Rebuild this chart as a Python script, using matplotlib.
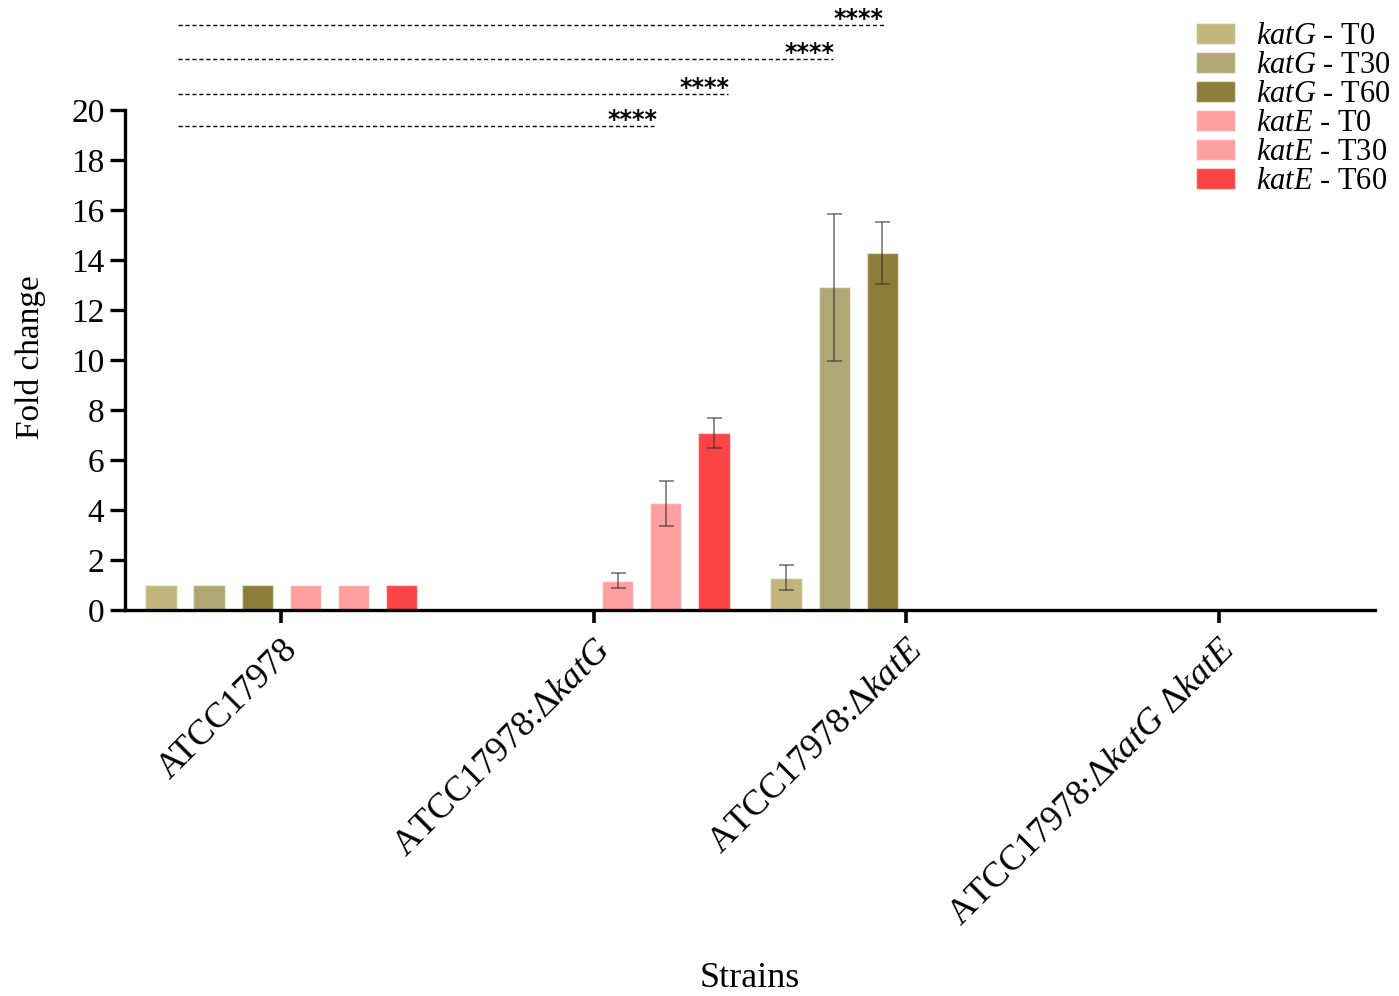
import numpy as np
import matplotlib
matplotlib.use("Agg")
import matplotlib.pyplot as plt

plt.rcParams["font.family"] = ["Liberation Serif", "DejaVu Serif"]
plt.rcParams["mathtext.fontset"] = "custom"
plt.rcParams["mathtext.rm"] = "Liberation Serif"
plt.rcParams["mathtext.it"] = "Liberation Serif:italic"

# Strains on the x axis
strains = [
    "ATCC17978",
    "ATCC17978:Δ$\\mathit{katG}$",
    "ATCC17978:Δ$\\mathit{katE}$",
    "ATCC17978:Δ$\\mathit{katG}$ Δ$\\mathit{katE}$",
]

# Fold change per series (nan = not measured for that strain)
katG_T0 = [1.0, np.nan, 1.29, np.nan]
katG_T30 = [1.0, np.nan, 12.9, np.nan]
katG_T60 = [1.0, np.nan, 14.27, np.nan]
katE_T0 = [1.0, 1.17, np.nan, np.nan]
katE_T30 = [1.0, 4.26, np.nan, np.nan]
katE_T60 = [1.0, 7.08, np.nan, np.nan]

# Error (± SD)
katG_T0_err = [0.0, np.nan, 0.49, np.nan]
katG_T30_err = [0.0, np.nan, 2.94, np.nan]
katG_T60_err = [0.0, np.nan, 1.24, np.nan]
katE_T0_err = [0.0, 0.30, np.nan, np.nan]
katE_T30_err = [0.0, 0.91, np.nan, np.nan]
katE_T60_err = [0.0, 0.60, np.nan, np.nan]

series_labels = [
    "$\\mathit{katG}$ - T0",
    "$\\mathit{katG}$ - T30",
    "$\\mathit{katG}$ - T60",
    "$\\mathit{katE}$ - T0",
    "$\\mathit{katE}$ - T30",
    "$\\mathit{katE}$ - T60",
]
series_colors = ["#C2B67C", "#B2A774", "#8C7E3A", "#FFA0A0", "#FFA0A0", "#FB4444"]

values = [katG_T0, katG_T30, katG_T60, katE_T0, katE_T30, katE_T60]
errors = [katG_T0_err, katG_T30_err, katG_T60_err, katE_T0_err, katE_T30_err, katE_T60_err]

# Significance comparisons: line height, end on x axis, star label centre
sig_y = [23.4, 22.04, 20.64, 19.36]
sig_start = -0.33
sig_end = [1.933, 1.766, 1.429, 1.192]
sig_star_x = [1.846, 1.689, 1.353, 1.125]
sig_text = ["****", "****", "****", "****"]

fig = plt.figure(figsize=(13.99, 9.96), dpi=100)
ax = fig.add_axes([0.0893, 0.3876, 0.8936, 0.502])

x = np.arange(len(strains))
bar_w = 0.1
step = 0.1538
handles = []
for i, (vals, errs, col, lab) in enumerate(zip(values, errors, series_colors, series_labels)):
    pos = x + (i - 2.5) * step
    b = ax.bar(pos, vals, width=bar_w, color=col, edgecolor=(1, 1, 1, 0.5),
               linewidth=1.0, label=lab, zorder=2)
    handles.append(b)
    v = np.array(vals, dtype=float)
    e = np.array(errs, dtype=float)
    mask = ~np.isnan(v) & (np.nan_to_num(e) > 0)
    if mask.any():
        ax.errorbar(pos[mask], v[mask], yerr=e[mask], fmt="none",
                    ecolor="#333333", alpha=0.65, elinewidth=1.2,
                    capsize=5.4, capthick=1.2, zorder=3)

ax.set_xlim(-0.5, 3.5)
ax.set_ylim(0, 20)
ax.set_yticks(np.arange(0, 21, 2))
ax.set_xticks(x)
ax.set_xticklabels(strains, rotation=45, ha="right", va="top",
                   rotation_mode="anchor", fontsize=26)
ax.tick_params(axis="y", direction="out", length=10.8, width=2.4,
               labelsize=24, pad=4)
ax.tick_params(axis="x", direction="out", length=9, width=2.6, pad=8)

for side in ["top", "right"]:
    ax.spines[side].set_visible(False)
for side in ["left", "bottom"]:
    ax.spines[side].set_linewidth(2.4)

ax.set_ylabel("Fold change", fontsize=24)
ax.yaxis.set_label_coords(-0.063, 0.506)

fig.text(750 / 1399, 1 - 978 / 996, "Strains", ha="center", va="center", fontsize=26)

# Significance lines with star labels
for y, xe, xs, t in zip(sig_y, sig_end, sig_star_x, sig_text):
    ax.plot([sig_start, xe], [y, y], color="black", linestyle=(0, (3, 2)),
            linewidth=1.0, clip_on=False, zorder=4)
    ax.annotate(t, xy=(xs, y), xytext=(0, -4.5), textcoords="offset points",
                ha="center", va="bottom", fontsize=17, fontweight="bold",
                family="DejaVu Sans", annotation_clip=False)

fig.legend(handles=handles, labels=series_labels, loc="upper left",
           bbox_to_anchor=(1196 / 1399, 1 - 22 / 996), frameon=False,
           fontsize=22, borderpad=0, borderaxespad=0, handlelength=1.28,
           handleheight=0.66, handletextpad=0.7, labelspacing=0.0)

fig.savefig("out.png", dpi=100)
